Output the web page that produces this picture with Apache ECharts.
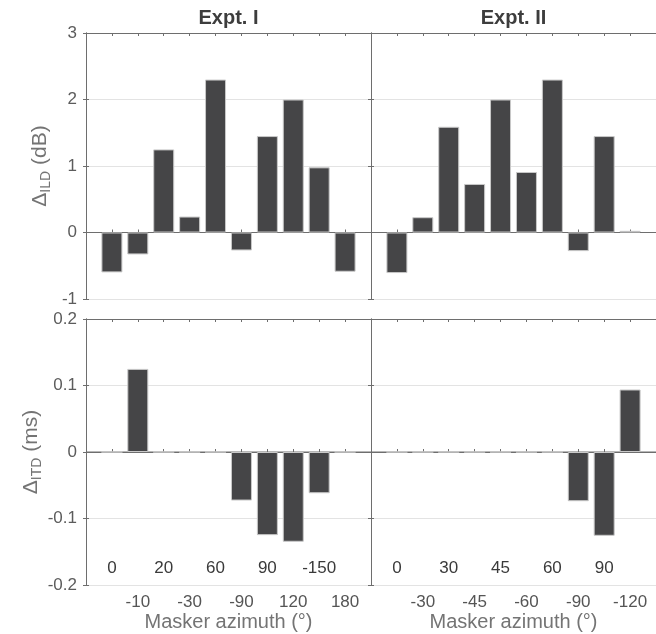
<!DOCTYPE html>
<html><head><meta charset="utf-8">
<script src="https://cdn.jsdelivr.net/npm/echarts@6/dist/echarts.min.js"></script>
<style>html,body{margin:0;padding:0;background:#fff}#c{width:656px;height:634px}</style>
</head><body><div id="c"></div>
<script>
const titles = ['Expt. I', 'Expt. II'];
const labelsI = ['0','-10','20','-30','60','-90','90','120','-150','180'];
const labelsII = ['0','-30','30','-45','45','-60','60','-90','90','-120'];
const ildI = [-0.60, -0.33, 1.25, 0.24, 2.30, -0.27, 1.45, 2.00, 0.98, -0.59];
const ildII = [-0.61, 0.23, 1.59, 0.73, 2.00, 0.91, 2.30, -0.28, 1.45, 0.025];
const itdI = [0, 0.125, 0, 0, 0, -0.073, -0.125, -0.135, -0.062, 0];
const itdII = [0, 0, 0, 0, 0, 0, 0, -0.074, -0.126, 0.094];
const ildTicks = {min: -1, max: 3, interval: 1};
const itdTicks = {min: -0.2, max: 0.2, interval: 0.1};
const xName = 'Masker azimuth (°)';

const FONT = 'Liberation Sans, Arial, Helvetica, sans-serif';
const AX = '#6e6e6e';
const grids = [
  {left: 86, top: 33, width: 285, height: 266},
  {left: 371, top: 33, width: 285, height: 266},
  {left: 86, top: 319, width: 285, height: 266},
  {left: 371, top: 319, width: 285, height: 266}
];
const panels = [
  {vals: ildI, labels: labelsI, yt: ildTicks, showY: true, bottom: false},
  {vals: ildII, labels: labelsII, yt: ildTicks, showY: false, bottom: false},
  {vals: itdI, labels: labelsI, yt: itdTicks, showY: true, bottom: true},
  {vals: itdII, labels: labelsII, yt: itdTicks, showY: false, bottom: true}
];
const n = labelsI.length;
const xAxis = [], yAxis = [], series = [];
panels.forEach((p, g) => {
  const base = {gridIndex: g, type: 'value', min: 0, max: n + 1, interval: 1,
    splitLine: {show: false}, axisLine: {lineStyle: {color: AX, width: 1}},
    axisTick: {inside: true, length: 3, lineStyle: {color: AX}}};
  xAxis.push(Object.assign({}, base, {position: 'bottom',
    name: p.bottom ? xName : '', nameLocation: 'middle', nameGap: 27,
    nameTextStyle: {fontFamily: FONT, fontSize: 20, color: '#747474'},
    axisLabel: {show: p.bottom, margin: 9, fontFamily: FONT, fontSize: 17, color: '#555',
      showMinLabel: false, showMaxLabel: false,
      formatter: v => (v >= 1 && v <= n && v % 2 === 0) ? p.labels[v - 1] : ''}}));
  xAxis.push(Object.assign({}, base, {position: 'bottom',
    axisLine: {show: false}, axisTick: {show: false},
    axisLabel: {show: p.bottom, inside: true, margin: 8, fontFamily: FONT, fontSize: 17, color: '#3a3a3a',
      showMinLabel: false, showMaxLabel: false,
      formatter: v => (v >= 1 && v <= n && v % 2 === 1) ? p.labels[v - 1] : ''}}));
  xAxis.push(Object.assign({}, base, {position: 'top', axisLabel: {show: false}}));
  const ybase = {gridIndex: g, type: 'value', min: p.yt.min, max: p.yt.max, interval: p.yt.interval,
    axisLine: {show: true, lineStyle: {color: AX}},
    axisTick: {show: true, inside: true, length: 3, lineStyle: {color: AX}}};
  const sub = g < 2 ? 'ILD' : 'ITD';
  const unit = g < 2 ? ' (dB)' : ' (ms)';
  yAxis.push(Object.assign({}, ybase, {position: 'left',
    splitLine: {show: true, lineStyle: {color: '#e3e3e3', width: 1}},
    name: p.showY ? '{d|Δ}{s|' + sub + '}{d|' + unit + '}' : '',
    nameLocation: 'middle', nameGap: 33,
    nameTextStyle: {color: '#747474', rich: {
      d: {fontFamily: FONT, fontSize: 21, color: '#747474', lineHeight: 26, verticalAlign: 'middle'},
      s: {fontFamily: FONT, fontSize: 14, color: '#747474', lineHeight: 26, verticalAlign: 'bottom', padding: [9, 0, 0, 0]}}},
    axisLabel: {show: p.showY, margin: 9, fontFamily: FONT, fontSize: 17, color: '#5c5c5c',
      formatter: v => String(Math.round(v * 10) / 10)}}));
  yAxis.push(Object.assign({}, ybase, {position: 'right', splitLine: {show: false}, axisLabel: {show: false}}));
  series.push({type: 'line', xAxisIndex: g * 3, yAxisIndex: g * 2, z: 2, silent: true,
    symbol: 'none', lineStyle: {color: AX, width: 1}, data: [[0, 0], [n + 1, 0]]});
  series.push({type: 'bar', xAxisIndex: g * 3, yAxisIndex: g * 2, z: 3, barWidth: 21,
    itemStyle: {color: '#454547', borderColor: '#c9c9c9', borderWidth: 1},
    data: p.vals.map((v, i) => [i + 1, v])});
});
const chart = echarts.init(document.getElementById('c'), null, {renderer: 'canvas'});
chart.setOption({
  animation: false,
  grid: grids,
  xAxis, yAxis, series,
  graphic: titles.map((t, i) => ({type: 'text', x: grids[i].left + grids[i].width / 2, y: 18,
    style: {text: t, align: 'center', verticalAlign: 'middle', fontFamily: FONT, fontSize: 20, fontWeight: 'bold', fill: '#3d3d3d'}}))
});
</script></body></html>
